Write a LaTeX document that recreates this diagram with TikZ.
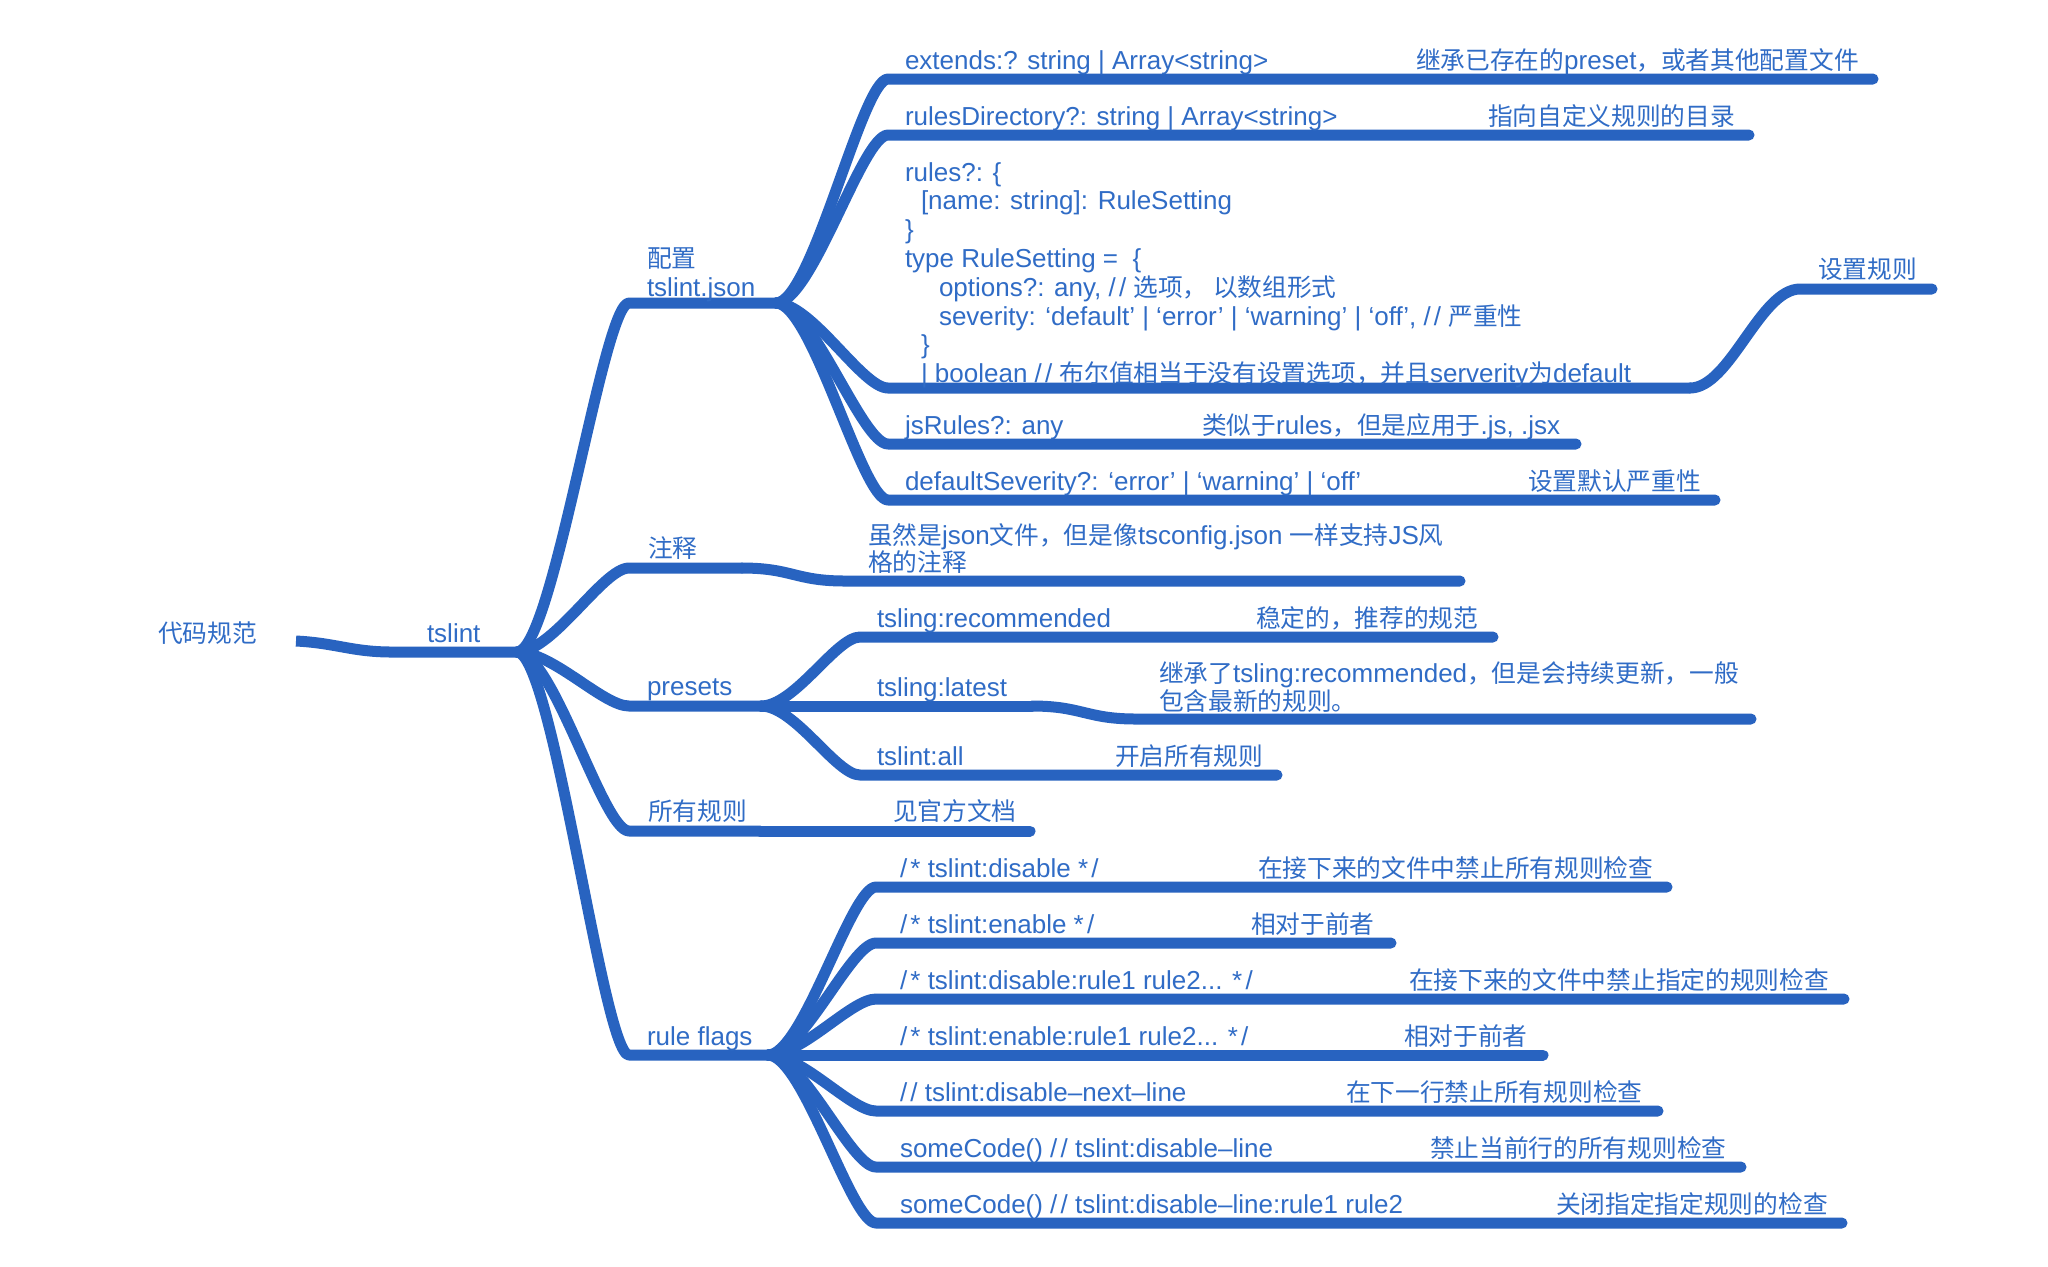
\documentclass[tikz,border=0pt]{standalone}
\usepackage{fontspec}
\setmainfont{Liberation Sans}
\newfontfamily\cjk[Scale=0.95]{Noto Sans CJK SC}
\newcommand\myfs{\fontsize{13}{15}\selectfont}
\newcommand\sls{/\kern1.6pt/}
\newcommand\cmo{/\kern1.6pt*}
\newcommand\cmc{*\kern1.6pt/}
\definecolor{linec}{RGB}{40,99,192}
\definecolor{txtc}{RGB}{48,108,198}
\begin{document}
\begin{tikzpicture}[x=0.5pt,y=-0.5pt,
  lt/.style={anchor=base west, inner sep=0pt, outer sep=0pt, text=txtc, font=\myfs},
  ct/.style={lt, font=\myfs\cjk},
  br/.style={draw=linec, line width=5.5pt, line cap=round, line join=round},
  lk/.style={br, line cap=butt}]
\useasboundingbox (0,0) rectangle (2048,1266);
\fill[white] (0,0) rectangle (2048,1266);

% ---------- coordinates of the underlines ----------
\coordinate (root-e) at (296,641);
\coordinate (tsl-s) at (392,652);  \coordinate (tsl-e) at (517,652);
\coordinate (cfg-s) at (629,303);  \coordinate (cfg-e) at (776,303);
\coordinate (cmt-s) at (629,568);  \coordinate (cmt-e) at (742,568);
\coordinate (pre-s) at (629,706);  \coordinate (pre-e) at (761,706);
\coordinate (all-s) at (629,831);  \coordinate (all-e) at (760,831);
\coordinate (flg-s) at (629,1055); \coordinate (flg-e) at (768,1055);
% config children
\coordinate (ext-s) at (888,79);   \coordinate (ext-e) at (1873,79);
\coordinate (dir-s) at (888,135);  \coordinate (dir-e) at (1749,135);
\coordinate (rul-s) at (888,388);  \coordinate (rul-e) at (1690,388);
\coordinate (jsr-s) at (888,444);  \coordinate (jsr-e) at (1576,444);
\coordinate (dfs-s) at (888,500);  \coordinate (dfs-e) at (1715,500);
\coordinate (set-s) at (1800,289); \coordinate (set-e) at (1932,289);
% comment child
\coordinate (cmd-s) at (845,581);  \coordinate (cmd-e) at (1460,581);
% presets children
\coordinate (rec-s) at (860,637);  \coordinate (rec-e) at (1493,637);
\coordinate (lat-s) at (860,706);  \coordinate (lat-e) at (1032,706);
\coordinate (ltd-s) at (1136,719); \coordinate (ltd-e) at (1751,719);
\coordinate (tal-s) at (860,775);  \coordinate (tal-e) at (1277,775);
% all rules child
\coordinate (doc-s) at (880,831);  \coordinate (doc-e) at (1030,831);
% rule flags children
\coordinate (f1-s) at (876,887);   \coordinate (f1-e) at (1667,887);
\coordinate (f2-s) at (876,943);   \coordinate (f2-e) at (1391,943);
\coordinate (f3-s) at (876,999);   \coordinate (f3-e) at (1844,999);
\coordinate (f4-s) at (876,1055);  \coordinate (f4-e) at (1543,1055);
\coordinate (f5-s) at (876,1111);  \coordinate (f5-e) at (1658,1111);
\coordinate (f6-s) at (876,1167);  \coordinate (f6-e) at (1741,1167);
\coordinate (f7-s) at (876,1223);  \coordinate (f7-e) at (1842,1223);

% ---------- connectors ----------
\draw[lk] (root-e) .. controls +(40,2) and +(-40,0) .. (tsl-s) -- (tsl-e);
\foreach \c in {cfg,cmt,pre,all,flg}
  \draw[br] (tsl-e) .. controls +(36,0) and +(-26,0) .. (\c-s) -- (\c-e);
\foreach \c in {ext,dir,rul,jsr,dfs}
  \draw[br] (cfg-e) .. controls +(36,0) and +(-26,0) .. (\c-s) -- (\c-e);
\draw[br] (rul-e) .. controls +(40,0) and +(-40,0) .. (set-s) -- (set-e);
\draw[br] (cmt-e) .. controls +(50,0) and +(-50,0) .. (cmd-s) -- (cmd-e);
\foreach \c in {rec,lat,tal}
  \draw[br] (pre-e) .. controls +(34,0) and +(-24,0) .. (\c-s) -- (\c-e);
\draw[br] (lat-e) .. controls +(50,0) and +(-50,0) .. (ltd-s) -- (ltd-e);
\draw[br] (all-e) -- (doc-s) -- (doc-e);
\foreach \c in {f1,f2,f3,f4,f5,f6,f7}
  \draw[br] (flg-e) .. controls +(35,0) and +(-25,0) .. (\c-s) -- (\c-e);

% ---------- labels ----------
\node[ct] (root) at (158,642) {代码规范};
\node[lt] (tsl) at (427,642) {tslint};

\node[ct] (cfg1) at (647,267) {配置};
\node[lt] (cfg2) at (647,296) {tslint.json};
\node[ct] (cmt) at (648,557) {注释};
\node[lt] (pre) at (647,695) {presets};
\node[ct] (all) at (648,820) {所有规则};
\node[lt] (flg) at (647,1045) {rule flags};

\node[lt] (ext) at (905,69) {extends:? string | Array<string>};
\node[lt] (extd) at (1416,69) {{\cjk 继承已存在的}preset{\cjk ，或者其他配置文件}};
\node[lt] (dir) at (905,125) {rulesDirectory?: string | Array<string>};
\node[ct] (dird) at (1488,125) {指向自定义规则的目录};
\node[lt] (rul1) at (905,181) {rules?: \{};
\node[lt] (rul2) at (921,209) {[name: string]: RuleSetting};
\node[lt] (rul3) at (905,238) {\}};
\node[lt] (rul4) at (905,267) {type RuleSetting =\ \ \{};
\node[lt] (rul5) at (939,296) {options?: any, \sls{} {\cjk 选项，\ 以数组形式}};
\node[lt] (rul6) at (939,325) {severity: ‘default’ | ‘error’ | ‘warning’ | ‘off’, \sls{} {\cjk 严重性}};
\node[lt] (rul7) at (921,353) {\}};
\node[lt] (rul8) at (921,382) {| boolean \sls{} {\cjk 布尔值相当于没有设置选项，并且}serverity{\cjk 为}default};
\node[ct] (set) at (1818,278) {设置规则};
\node[lt] (jsr) at (905,434) {jsRules?: any};
\node[lt] (jsrd) at (1202,434) {{\cjk 类似于}rules{\cjk ，但是应用于}.js, .jsx};
\node[lt] (dfs) at (905,490) {defaultSeverity?: ‘error’ | ‘warning’ | ‘off’};
\node[ct] (dfsd) at (1528,490) {设置默认严重性};

\node[lt] (cmd1) at (868,544) {{\cjk 虽然是}json{\cjk 文件，但是像}tsconfig.json {\cjk 一样支持}JS{\cjk 风}};
\node[ct] (cmd2) at (868,571) {格的注释};

\node[lt] (rec) at (877,627) {tsling:recommended};
\node[ct] (recd) at (1256,627) {稳定的，推荐的规范};
\node[lt] (lat) at (877,696) {tsling:latest};
\node[lt] (ltd1) at (1159,682) {{\cjk 继承了}tsling:recommended{\cjk ，但是会持续更新，一般}};
\node[ct] (ltd2) at (1159,710) {包含最新的规则。};
\node[lt] (tal) at (877,765) {tslint:all};
\node[ct] (tald) at (1115,765) {开启所有规则};
\node[ct] (doc) at (893,820) {见官方文档};

\node[lt] (f1) at (900,877) {\cmo{} tslint:disable \cmc};
\node[ct] (f1d) at (1258,877) {在接下来的文件中禁止所有规则检查};
\node[lt] (f2) at (900,933) {\cmo{} tslint:enable \cmc};
\node[ct] (f2d) at (1251,933) {相对于前者};
\node[lt] (f3) at (900,989) {\cmo{} tslint:disable:rule1 rule2... \cmc};
\node[ct] (f3d) at (1409,989) {在接下来的文件中禁止指定的规则检查};
\node[lt] (f4) at (900,1045) {\cmo{} tslint:enable:rule1 rule2... \cmc};
\node[ct] (f4d) at (1404,1045) {相对于前者};
\node[lt] (f5) at (900,1101) {\sls{} tslint:disable–next–line};
\node[ct] (f5d) at (1346,1101) {在下一行禁止所有规则检查};
\node[lt] (f6) at (900,1157) {someCode() \sls{} tslint:disable–line};
\node[ct] (f6d) at (1430,1157) {禁止当前行的所有规则检查};
\node[lt] (f7) at (900,1213) {someCode() \sls{} tslint:disable–line:rule1 rule2};
\node[ct] (f7d) at (1556,1213) {关闭指定指定规则的检查};
\end{tikzpicture}
\end{document}
